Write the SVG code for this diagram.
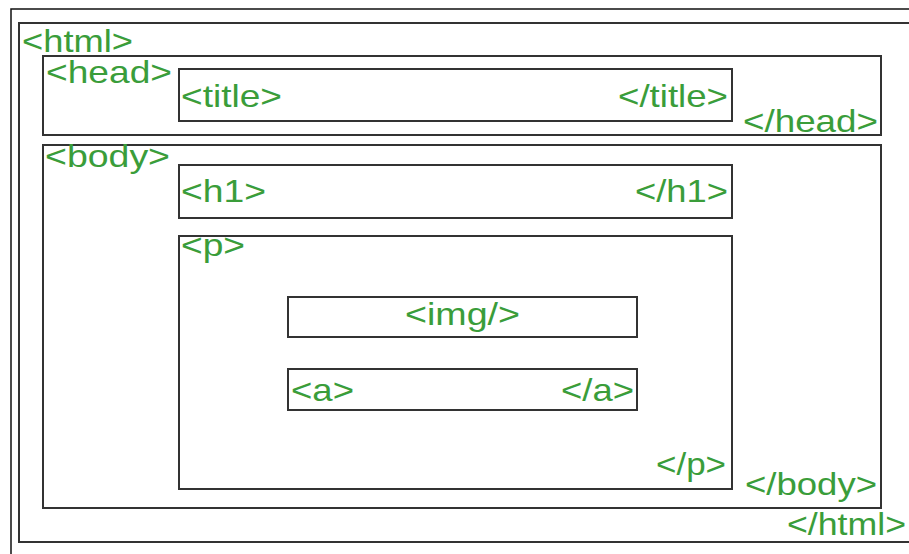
<svg xmlns="http://www.w3.org/2000/svg" width="909" height="554" viewBox="0 0 909 554">
  <style>
    .box { fill: none; stroke: #333; stroke-width: 2; }
    .frame { fill: none; stroke: #111; stroke-width: 1.5; }
    .tag { font-family: "Liberation Sans", Arial, sans-serif; font-size: 32px; fill: #3a9d3a; }
  </style>
  <rect width="909" height="554" fill="#fff"/>
  <!-- page frame, runs off the right and bottom edges -->
  <rect class="frame" x="11" y="9" width="920" height="560"/>

  <g id="html">
    <rect class="box" x="19" y="23" width="910" height="519"/>
    <text class="tag" x="22" y="52" textLength="111" lengthAdjust="spacingAndGlyphs">&lt;html&gt;</text>
    <text class="tag" x="787" y="535" textLength="119" lengthAdjust="spacingAndGlyphs">&lt;/html&gt;</text>
  </g>

  <g id="head">
    <rect class="box" x="43" y="56" width="838" height="79"/>
    <text class="tag" x="46" y="83" textLength="126" lengthAdjust="spacingAndGlyphs">&lt;head&gt;</text>
    <text class="tag" x="743" y="132" textLength="135" lengthAdjust="spacingAndGlyphs">&lt;/head&gt;</text>
  </g>

  <g id="title">
    <rect class="box" x="179" y="69" width="553" height="52"/>
    <text class="tag" x="181" y="107" textLength="101" lengthAdjust="spacingAndGlyphs">&lt;title&gt;</text>
    <text class="tag" x="618" y="107" textLength="110" lengthAdjust="spacingAndGlyphs">&lt;/title&gt;</text>
  </g>

  <g id="body">
    <rect class="box" x="43" y="145" width="838" height="363"/>
    <text class="tag" x="45" y="167" textLength="125" lengthAdjust="spacingAndGlyphs">&lt;body&gt;</text>
    <text class="tag" x="745" y="495" textLength="132" lengthAdjust="spacingAndGlyphs">&lt;/body&gt;</text>
  </g>

  <g id="h1">
    <rect class="box" x="179" y="165" width="553" height="53"/>
    <text class="tag" x="181" y="202" textLength="85" lengthAdjust="spacingAndGlyphs">&lt;h1&gt;</text>
    <text class="tag" x="635" y="202" textLength="93" lengthAdjust="spacingAndGlyphs">&lt;/h1&gt;</text>
  </g>

  <g id="p">
    <rect class="box" x="179" y="236" width="553" height="253"/>
    <text class="tag" x="181" y="256" textLength="64" lengthAdjust="spacingAndGlyphs">&lt;p&gt;</text>
    <text class="tag" x="656" y="475" textLength="70" lengthAdjust="spacingAndGlyphs">&lt;/p&gt;</text>
  </g>

  <g id="img">
    <rect class="box" x="288" y="297" width="349" height="40"/>
    <text class="tag" x="405" y="325" textLength="115" lengthAdjust="spacingAndGlyphs">&lt;img/&gt;</text>
  </g>

  <g id="a">
    <rect class="box" x="288" y="369" width="349" height="41"/>
    <text class="tag" x="291" y="401" textLength="63" lengthAdjust="spacingAndGlyphs">&lt;a&gt;</text>
    <text class="tag" x="561" y="401" textLength="73" lengthAdjust="spacingAndGlyphs">&lt;/a&gt;</text>
  </g>

  <g id="connectors"/>
</svg>
